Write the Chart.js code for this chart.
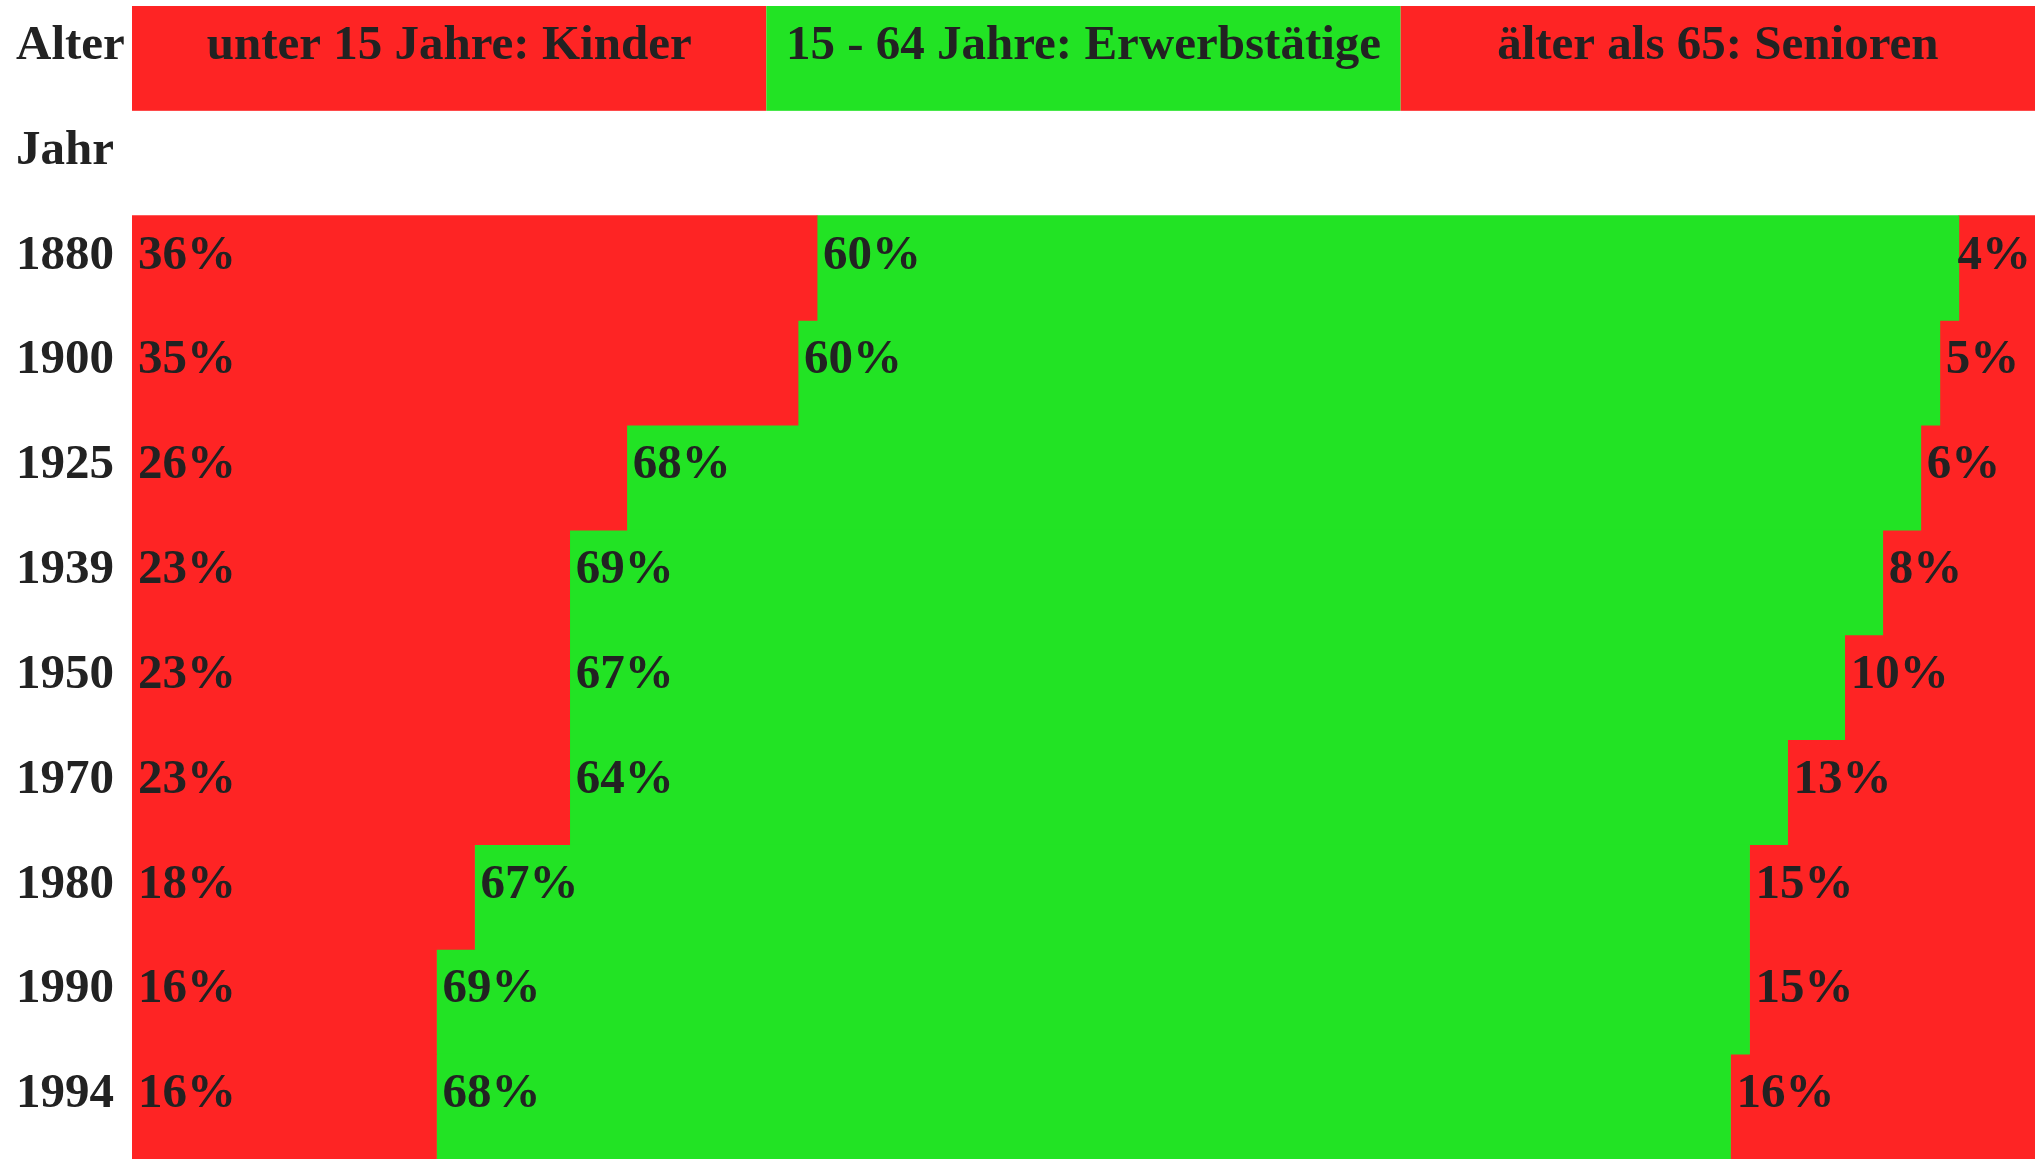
<!DOCTYPE html>
<html lang="de">
<head>
<meta charset="utf-8">
<title>Altersstruktur</title>
<script src="https://cdn.jsdelivr.net/npm/chart.js@4/dist/chart.umd.min.js"></script>
<style>
  html, body { margin: 0; padding: 0; background: #ffffff; }
  #wrap { width: 2042px; height: 1159px; }
</style>
</head>
<body>
<div id="wrap"><canvas id="c" width="2042" height="1159"></canvas></div>
<script>
// ---- data ----
const headerLabels = ['Alter', 'Jahr'];
const years = ['1880', '1900', '1925', '1939', '1950', '1970', '1980', '1990', '1994'];
const ageGroups = ['unter 15 Jahre: Kinder', '15 - 64 Jahre: Erwerbstätige', 'älter als 65: Senioren'];
const kids    = [36, 35, 26, 23, 23, 23, 18, 16, 16];
const workers = [60, 60, 68, 69, 67, 64, 67, 69, 68];
const seniors = [ 4,  5,  6,  8, 10, 13, 15, 15, 16];

// ---- styles ----
const RED = '#fe2424';
const GREEN = '#22e324';
const TEXT = '#222222';
const FONT = 'bold 49px "Liberation Serif", "Times New Roman", serif';
const BASELINE = 53;   // text baseline below the row top
const PAD = 6;         // text padding inside a segment

const rows = headerLabels.concat(years);
const pad2 = arr => [null, null].concat(arr);

const tableText = {
  id: 'tableText',
  afterDatasetsDraw(chart) {
    const { ctx, chartArea, scales: { y } } = chart;
    const n = chart.data.labels.length;
    const rowH = (chartArea.bottom - chartArea.top) / n;
    ctx.save();
    ctx.font = FONT;
    ctx.textBaseline = 'alphabetic';

    // header row: legend of the three age groups
    const top0 = y.getPixelForValue(0) - rowH / 2;
    const w = (chartArea.right - chartArea.left) / chart.data.datasets.length;
    chart.data.datasets.forEach((ds, k) => {
      ctx.fillStyle = ds.backgroundColor;
      ctx.fillRect(chartArea.left + k * w, top0, w, rowH);
      ctx.fillStyle = TEXT;
      ctx.textAlign = 'center';
      ctx.fillText(ds.label, chartArea.left + (k + 0.5) * w, top0 + BASELINE);
    });

    // row labels (left column)
    ctx.fillStyle = TEXT;
    ctx.textAlign = 'left';
    chart.data.labels.forEach((lab, i) => {
      const top = y.getPixelForValue(i) - rowH / 2;
      ctx.fillText(lab, 16, top + BASELINE);
    });

    // value labels
    chart.data.datasets.forEach((ds, k) => {
      chart.getDatasetMeta(k).data.forEach((bar, i) => {
        const v = ds.data[i];
        if (v === null || v === undefined) return;
        const p = bar.getProps(['x', 'base', 'y', 'height'], true);
        const top = y.getPixelForValue(i) - rowH / 2;
        const txt = v + '%';
        const tw = ctx.measureText(txt).width;
        let tx = Math.min(p.base, p.x) + PAD;
        if (tx + tw > chartArea.right - 4) tx = chartArea.right - 4 - tw;
        ctx.fillText(txt, tx, top + BASELINE);
      });
    });
    ctx.restore();
  }
};

new Chart(document.getElementById('c'), {
  type: 'bar',
  data: {
    labels: rows,
    datasets: [
      { label: ageGroups[0], data: pad2(kids),    backgroundColor: RED },
      { label: ageGroups[1], data: pad2(workers), backgroundColor: GREEN },
      { label: ageGroups[2], data: pad2(seniors), backgroundColor: RED }
    ]
  },
  options: {
    indexAxis: 'y',
    responsive: false,
    animation: false,
    devicePixelRatio: 1,
    datasets: {
      bar: { barPercentage: 1, categoryPercentage: 1, borderWidth: 0 }
    },
    layout: { padding: { left: 132, right: 7, top: 6, bottom: 0 } },
    scales: {
      x: { stacked: true, min: 0, max: 100, display: false },
      y: { stacked: true, display: false }
    },
    plugins: {
      legend: { display: false },
      tooltip: { enabled: false }
    }
  },
  plugins: [tableText]
});
</script>
</body>
</html>
